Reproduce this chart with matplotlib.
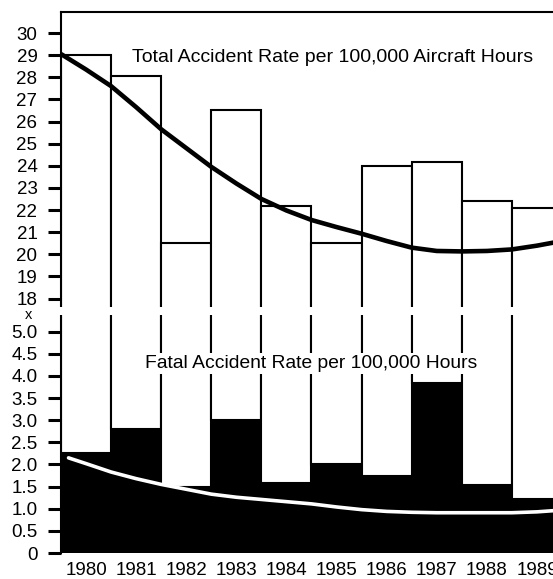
import numpy as np
import matplotlib
matplotlib.use("Agg")
import matplotlib.pyplot as plt
from matplotlib.patches import Rectangle

plt.rcParams['font.family'] = ['Liberation Sans', 'DejaVu Sans']

# data
years = [1980, 1981, 1982, 1983, 1984, 1985, 1986, 1987, 1988, 1989]
total_rate = [29.0, 28.05, 20.5, 26.5, 22.2, 20.5, 24.0, 24.15, 22.4, 22.1]
fatal_rate = [2.25, 2.8, 1.5, 3.0, 1.58, 2.0, 1.75, 3.85, 1.53, 1.23]

total_trend_x = [1979.5, 1980, 1980.5, 1981, 1981.5, 1982, 1982.5, 1983, 1983.5, 1984, 1984.5,
                 1985, 1985.5, 1986, 1986.5, 1987, 1987.5, 1988, 1988.5, 1989, 1989.5]
total_trend = [29.05, 28.35, 27.6, 26.65, 25.65, 24.8, 23.95, 23.2, 22.5, 21.98, 21.55,
               21.23, 20.93, 20.6, 20.3, 20.15, 20.13, 20.15, 20.22, 20.39, 20.6]

fatal_trend_x = [1979.65, 1980, 1980.5, 1981, 1981.5, 1982, 1982.5, 1983, 1983.5, 1984, 1984.5,
                 1985, 1985.5, 1986, 1986.5, 1987, 1987.5, 1988, 1988.5, 1989, 1989.5]
fatal_trend = [2.15, 2.02, 1.83, 1.68, 1.55, 1.44, 1.33, 1.26, 1.21, 1.16, 1.11,
               1.04, 0.98, 0.94, 0.92, 0.91, 0.91, 0.91, 0.91, 0.93, 0.97]

fatal_ticks = [0, 0.5, 1.0, 1.5, 2.0, 2.5, 3.0, 3.5, 4.0, 4.5, 5.0]
fatal_labels = ['0', '0.5', '1.0', '1.5', '2.0', '2.5', '3.0', '3.5', '4.0', '4.5', '5.0']
total_ticks = list(range(18, 31))

total = np.array(total_rate)
fatal = np.array(fatal_rate)


# broken axis: 0-5 on the bottom, 18-30 on top
def fwd(v):
    v = np.asarray(v, dtype=float)
    return np.where(v <= 5, 2 * v,
                    np.where(v >= 18, 11.5 + (v - 18), 10 + (v - 5) * 1.5 / 13))


def inv(t):
    t = np.asarray(t, dtype=float)
    return np.where(t <= 10, t / 2,
                    np.where(t >= 11.5, 18 + (t - 11.5), 5 + (t - 10) * 13 / 1.5))


W, H = 553, 579
fig = plt.figure(figsize=(W / 100, H / 100), dpi=100)
ax = fig.add_axes([61 / W, (H - 553) / H, (562 - 61) / W, (553 - 12) / H])
ax.set_yscale('function', functions=(fwd, inv))

ax.bar(years, fatal, width=1, color='black', linewidth=0, zorder=1)
ax.bar(years, total - fatal, bottom=fatal, width=1, facecolor='white',
       edgecolor='black', linewidth=1.5, zorder=1.2)

ax.plot(total_trend_x, total_trend, color='black', lw=3.3, zorder=3,
        solid_capstyle='butt', solid_joinstyle='round')
ax.plot(fatal_trend_x, fatal_trend, color='white', lw=2.6, zorder=3,
        solid_capstyle='round', solid_joinstyle='round')

ax.set_xlim(1979.5, 1989.5)
ax.set_ylim(0, 30.95)

ax.set_yticks(fatal_ticks + total_ticks)
ax.set_yticklabels(fatal_labels + [str(t) for t in total_ticks])
ax.yaxis.set_minor_locator(plt.NullLocator())
ax.set_xticks(years)
ax.set_xticklabels([str(y) for y in years])

ax.tick_params(axis='y', direction='out', length=9.5, width=2.2, pad=7.5,
               labelsize=13.5)
ax.tick_params(axis='x', length=0, pad=6.5, labelsize=13.5)

for s in ['right', 'bottom', 'left']:
    ax.spines[s].set_visible(False)
ax.spines['top'].set_linewidth(1.5)
ax.axvline(1979.5, color='black', lw=1.5, zorder=2.5, clip_on=False)

# white gap marking the break
band = Rectangle((-0.02, 11.5), 1.04, 14.7 - 11.5,
                 transform=ax.get_yaxis_transform(), facecolor='white',
                 edgecolor='none', zorder=4, clip_on=False)
ax.add_patch(band)
fig.text(29 / W, (H - 315) / H, 'x', ha='center', va='center', fontsize=10.5)

ax.text(1984.93, 28.91, 'Total Accident Rate per 100,000 Aircraft Hours',
        ha='center', va='center', fontsize=14, zorder=5)
ax.text(1984.49, 4.29, 'Fatal Accident Rate per 100,000 Hours',
        ha='center', va='center', fontsize=13.9, zorder=5,
        bbox=dict(facecolor='white', edgecolor='none', pad=1.5))

fig.savefig('out.png', dpi=100)
